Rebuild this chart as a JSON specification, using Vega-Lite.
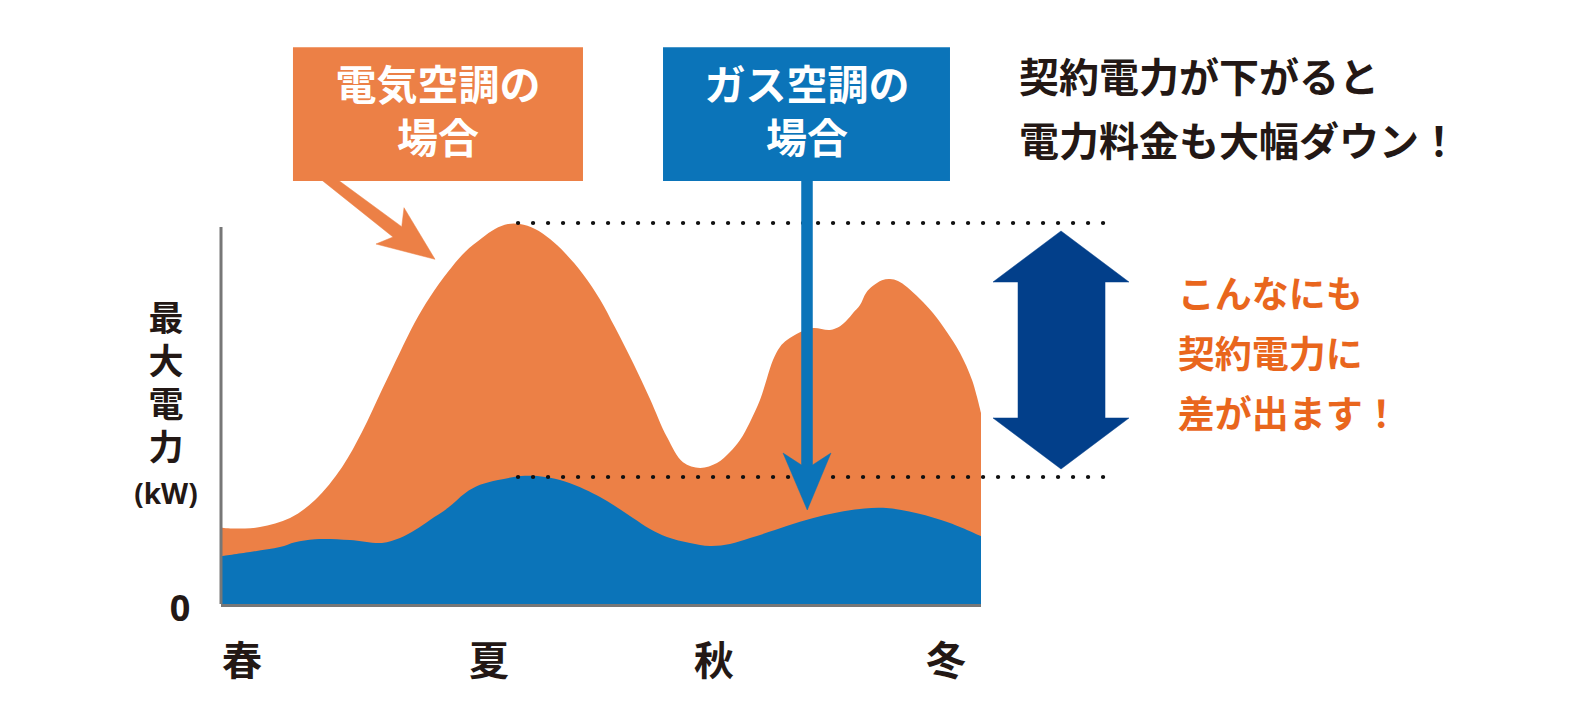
{
  "$schema": "https://vega.github.io/schema/vega-lite/v6.json",
  "width": 760,
  "height": 377,
  "autosize": {"type": "none"},
  "padding": {"left": 221, "top": 227, "right": 594, "bottom": 123},
  "background": "white",
  "config": {"view": {"stroke": null}, "axis": {"disable": true}, "text": {"font": "Noto Sans CJK JP"}},
  "datasets": {
    "electric": [
      {"t": 0, "kw": 20.2}, {"t": 1.84, "kw": 20.0}, {"t": 5.13, "kw": 20.4}, {"t": 9.08, "kw": 22.8},
      {"t": 12.37, "kw": 27.6}, {"t": 15.92, "kw": 36.3}, {"t": 18.55, "kw": 45.6}, {"t": 21.18, "kw": 56.8},
      {"t": 23.55, "kw": 66.8}, {"t": 25.53, "kw": 74.8}, {"t": 27.5, "kw": 81.4}, {"t": 29.87, "kw": 88.1},
      {"t": 32.11, "kw": 93.4}, {"t": 34.34, "kw": 97.1}, {"t": 36.05, "kw": 99.5}, {"t": 37.76, "kw": 100.8},
      {"t": 39.34, "kw": 100.8}, {"t": 41.32, "kw": 99.5}, {"t": 43.29, "kw": 96.8}, {"t": 45.26, "kw": 93.1},
      {"t": 47.63, "kw": 87.5}, {"t": 49.87, "kw": 80.8}, {"t": 51.84, "kw": 73.4}, {"t": 54.21, "kw": 64.0},
      {"t": 56.45, "kw": 54.4}, {"t": 58.68, "kw": 44.3}, {"t": 60.79, "kw": 37.6}, {"t": 63.03, "kw": 36.1},
      {"t": 65.26, "kw": 37.4}, {"t": 66.97, "kw": 40.3}, {"t": 68.29, "kw": 43.5}, {"t": 69.61, "kw": 48.3},
      {"t": 70.92, "kw": 54.1}, {"t": 71.84, "kw": 59.9}, {"t": 72.63, "kw": 64.7}, {"t": 73.55, "kw": 68.2},
      {"t": 74.47, "kw": 70.0}, {"t": 76.18, "kw": 72.1}, {"t": 77.89, "kw": 73.2}, {"t": 80.13, "kw": 72.7},
      {"t": 81.45, "kw": 73.7}, {"t": 82.37, "kw": 75.3}, {"t": 83.16, "kw": 77.2}, {"t": 84.08, "kw": 79.3},
      {"t": 84.87, "kw": 82.5}, {"t": 85.79, "kw": 84.4}, {"t": 86.97, "kw": 85.9}, {"t": 88.03, "kw": 86.2},
      {"t": 89.08, "kw": 85.7}, {"t": 90.26, "kw": 84.1}, {"t": 91.97, "kw": 80.9}, {"t": 93.68, "kw": 77.2},
      {"t": 95.53, "kw": 72.1}, {"t": 97.24, "kw": 66.6}, {"t": 98.82, "kw": 59.4}, {"t": 100, "kw": 50.7}
    ],
    "gas": [
      {"t": 0, "kw": 12.7}, {"t": 3.82, "kw": 13.8}, {"t": 7.76, "kw": 15.1}, {"t": 9.74, "kw": 16.4},
      {"t": 12.37, "kw": 17.2}, {"t": 16.97, "kw": 17.0}, {"t": 21.18, "kw": 16.2}, {"t": 23.55, "kw": 17.5},
      {"t": 25.53, "kw": 19.6}, {"t": 27.5, "kw": 22.3}, {"t": 29.87, "kw": 25.5}, {"t": 32.11, "kw": 29.4},
      {"t": 34.08, "kw": 31.6}, {"t": 36.45, "kw": 32.9}, {"t": 40.0, "kw": 34.0}, {"t": 42.63, "kw": 33.7},
      {"t": 45.26, "kw": 32.5}, {"t": 47.89, "kw": 30.4}, {"t": 49.87, "kw": 28.4}, {"t": 51.84, "kw": 26.0},
      {"t": 54.21, "kw": 22.8}, {"t": 56.45, "kw": 19.9}, {"t": 58.68, "kw": 17.8}, {"t": 61.71, "kw": 16.2},
      {"t": 64.34, "kw": 15.4}, {"t": 66.97, "kw": 15.9}, {"t": 69.61, "kw": 17.5}, {"t": 72.89, "kw": 19.6},
      {"t": 76.18, "kw": 21.8}, {"t": 79.47, "kw": 23.6}, {"t": 82.76, "kw": 24.9}, {"t": 87.11, "kw": 25.5},
      {"t": 91.58, "kw": 24.1}, {"t": 95.92, "kw": 21.5}, {"t": 100, "kw": 18.0}
    ],
    "dblarrow": [
      {"i": 0, "t": 110.53, "kw": 98.94}, {"i": 1, "t": 119.47, "kw": 85.41}, {"i": 2, "t": 116.32, "kw": 85.41},
      {"i": 3, "t": 116.32, "kw": 49.34}, {"i": 4, "t": 119.47, "kw": 49.34}, {"i": 5, "t": 110.53, "kw": 35.81},
      {"i": 6, "t": 101.58, "kw": 49.34}, {"i": 7, "t": 104.87, "kw": 49.34}, {"i": 8, "t": 104.87, "kw": 85.41},
      {"i": 9, "t": 101.58, "kw": 85.41}
    ],
    "orangearrow": [
      {"i": 0, "t": 14.87, "kw": 113.26}, {"i": 1, "t": 23.78, "kw": 100.08}, {"i": 2, "t": 24.08, "kw": 105.12},
      {"i": 3, "t": 28.16, "kw": 91.43}, {"i": 4, "t": 20.39, "kw": 95.49}, {"i": 5, "t": 22.63, "kw": 97.35},
      {"i": 6, "t": 12.74, "kw": 113.29}
    ],
    "bluearrow": [
      {"i": 0, "t": 76.38, "kw": 113.0}, {"i": 1, "t": 77.83, "kw": 113.0}, {"i": 2, "t": 77.83, "kw": 36.87},
      {"i": 3, "t": 80.26, "kw": 40.05}, {"i": 4, "t": 77.14, "kw": 24.93}, {"i": 5, "t": 73.95, "kw": 40.05},
      {"i": 6, "t": 76.38, "kw": 36.87}
    ],
    "seasons": [
      {"season": "春", "t": 2.76}, {"season": "夏", "t": 35.26}, {"season": "秋", "t": 64.87}, {"season": "冬", "t": 95.39}
    ],
    "one": [{}]
  },
  "layer": [
    {
      "data": {"name": "electric"},
      "mark": {"type": "area", "interpolate": "catmull-rom", "color": "#EC8046", "clip": false},
      "encoding": {
        "x": {"field": "t", "type": "quantitative", "scale": {"domain": [0, 100], "nice": false, "zero": false}},
        "y": {"field": "kw", "type": "quantitative", "scale": {"domain": [0, 100], "nice": false, "zero": false}}
      }
    },
    {
      "data": {"name": "gas"},
      "mark": {"type": "area", "interpolate": "catmull-rom", "color": "#0B74B9"},
      "encoding": {
        "x": {"field": "t", "type": "quantitative"},
        "y": {"field": "kw", "type": "quantitative"}
      }
    },
    {
      "data": {"name": "one"},
      "mark": {"type": "rule", "color": "#777777", "strokeWidth": 3},
      "encoding": {
        "x": {"datum": 0, "type": "quantitative"},
        "y": {"datum": 0, "type": "quantitative"},
        "y2": {"datum": 100}
      }
    },
    {
      "data": {"name": "one"},
      "mark": {"type": "rule", "color": "#777777", "strokeWidth": 3, "yOffset": 1.5},
      "encoding": {
        "x": {"datum": 0, "type": "quantitative"},
        "x2": {"datum": 100},
        "y": {"datum": 0, "type": "quantitative"}
      }
    },
    {
      "data": {"name": "one"},
      "mark": {"type": "rule", "color": "#111111", "strokeWidth": 4.2, "strokeCap": "round", "strokeDash": [0.1, 14.9]},
      "encoding": {
        "x": {"datum": 39.08, "type": "quantitative"},
        "x2": {"datum": 116.1},
        "y": {"datum": 101.06, "type": "quantitative"}
      }
    },
    {
      "data": {"name": "one"},
      "mark": {"type": "rule", "color": "#111111", "strokeWidth": 4.2, "strokeCap": "round", "strokeDash": [0.1, 14.9]},
      "encoding": {
        "x": {"datum": 39.08, "type": "quantitative"},
        "x2": {"datum": 116.1},
        "y": {"datum": 33.69, "type": "quantitative"}
      }
    },
    {
      "data": {"name": "dblarrow"},
      "mark": {"type": "line", "fill": "#023F8A", "stroke": "#023F8A", "strokeWidth": 0.5, "interpolate": "linear-closed"},
      "encoding": {
        "x": {"field": "t", "type": "quantitative"},
        "y": {"field": "kw", "type": "quantitative"},
        "order": {"field": "i"}
      }
    },
    {
      "data": {"name": "orangearrow"},
      "mark": {"type": "line", "fill": "#EC8046", "stroke": "#EC8046", "strokeWidth": 0.5, "interpolate": "linear-closed"},
      "encoding": {
        "x": {"field": "t", "type": "quantitative"},
        "y": {"field": "kw", "type": "quantitative"},
        "order": {"field": "i"}
      }
    },
    {
      "data": {"name": "bluearrow"},
      "mark": {"type": "line", "fill": "#0B74B9", "stroke": "#0B74B9", "strokeWidth": 0.5, "interpolate": "linear-closed"},
      "encoding": {
        "x": {"field": "t", "type": "quantitative"},
        "y": {"field": "kw", "type": "quantitative"},
        "order": {"field": "i"}
      }
    },
    {
      "data": {"name": "one"},
      "mark": {"type": "rect", "color": "#EC8046"},
      "encoding": {
        "x": {"datum": 9.47, "type": "quantitative"},
        "x2": {"datum": 47.63},
        "y": {"datum": 147.7, "type": "quantitative"},
        "y2": {"datum": 112.2}
      }
    },
    {
      "data": {"name": "one"},
      "mark": {"type": "rect", "color": "#0B74B9"},
      "encoding": {
        "x": {"datum": 58.16, "type": "quantitative"},
        "x2": {"datum": 95.92},
        "y": {"datum": 147.7, "type": "quantitative"},
        "y2": {"datum": 112.2}
      }
    },
    {
      "data": {"name": "one"},
      "mark": {"type": "text", "text": ["電気空調の", "場合"], "color": "white", "fontSize": 41, "fontWeight": "bold", "lineHeight": 53, "align": "center", "baseline": "middle"},
      "encoding": {
        "x": {"datum": 28.55, "type": "quantitative"},
        "y": {"datum": 136.87, "type": "quantitative"}
      }
    },
    {
      "data": {"name": "one"},
      "mark": {"type": "text", "text": ["ガス空調の", "場合"], "color": "white", "fontSize": 41, "fontWeight": "bold", "lineHeight": 53, "align": "center", "baseline": "middle"},
      "encoding": {
        "x": {"datum": 77.1, "type": "quantitative"},
        "y": {"datum": 136.87, "type": "quantitative"}
      }
    },
    {
      "data": {"name": "one"},
      "mark": {"type": "text", "text": ["契約電力が下がると", "電力料金も大幅ダウン！"], "color": "#231815", "fontSize": 40, "fontWeight": "bold", "lineHeight": 64, "align": "left", "baseline": "middle"},
      "encoding": {
        "x": {"datum": 105.0, "type": "quantitative"},
        "y": {"datum": 139.0, "type": "quantitative"}
      }
    },
    {
      "data": {"name": "one"},
      "mark": {"type": "text", "text": ["こんなにも", "契約電力に", "差が出ます！"], "color": "#E9661D", "fontSize": 37, "fontWeight": "bold", "lineHeight": 60, "align": "left", "baseline": "middle"},
      "encoding": {
        "x": {"datum": 125.9, "type": "quantitative"},
        "y": {"datum": 81.43, "type": "quantitative"}
      }
    },
    {
      "data": {"name": "one"},
      "mark": {"type": "text", "text": ["最", "大", "電", "力"], "color": "#231815", "fontSize": 35, "fontWeight": "bold", "lineHeight": 42.8, "align": "center", "baseline": "middle"},
      "encoding": {
        "x": {"datum": -7.24, "type": "quantitative"},
        "y": {"datum": 75.2, "type": "quantitative"}
      }
    },
    {
      "data": {"name": "one"},
      "mark": {"type": "text", "text": "(kW)", "color": "#231815", "fontSize": 28, "fontWeight": "bold", "align": "center", "baseline": "middle", "font": "Noto Sans"},
      "encoding": {
        "x": {"datum": -7.24, "type": "quantitative"},
        "y": {"datum": 28.65, "type": "quantitative"}
      }
    },
    {
      "data": {"name": "one"},
      "mark": {"type": "text", "text": "0", "color": "#231815", "fontSize": 36, "fontWeight": "bold", "align": "center", "baseline": "middle", "font": "Noto Sans"},
      "encoding": {
        "x": {"datum": -5.39, "type": "quantitative"},
        "y": {"datum": -1.59, "type": "quantitative"}
      }
    },
    {
      "data": {"name": "seasons"},
      "mark": {"type": "text", "color": "#231815", "fontSize": 40, "fontWeight": "bold", "align": "center", "baseline": "middle"},
      "encoding": {
        "x": {"field": "t", "type": "quantitative"},
        "y": {"datum": -15.65, "type": "quantitative"},
        "text": {"field": "season"}
      }
    }
  ]
}
